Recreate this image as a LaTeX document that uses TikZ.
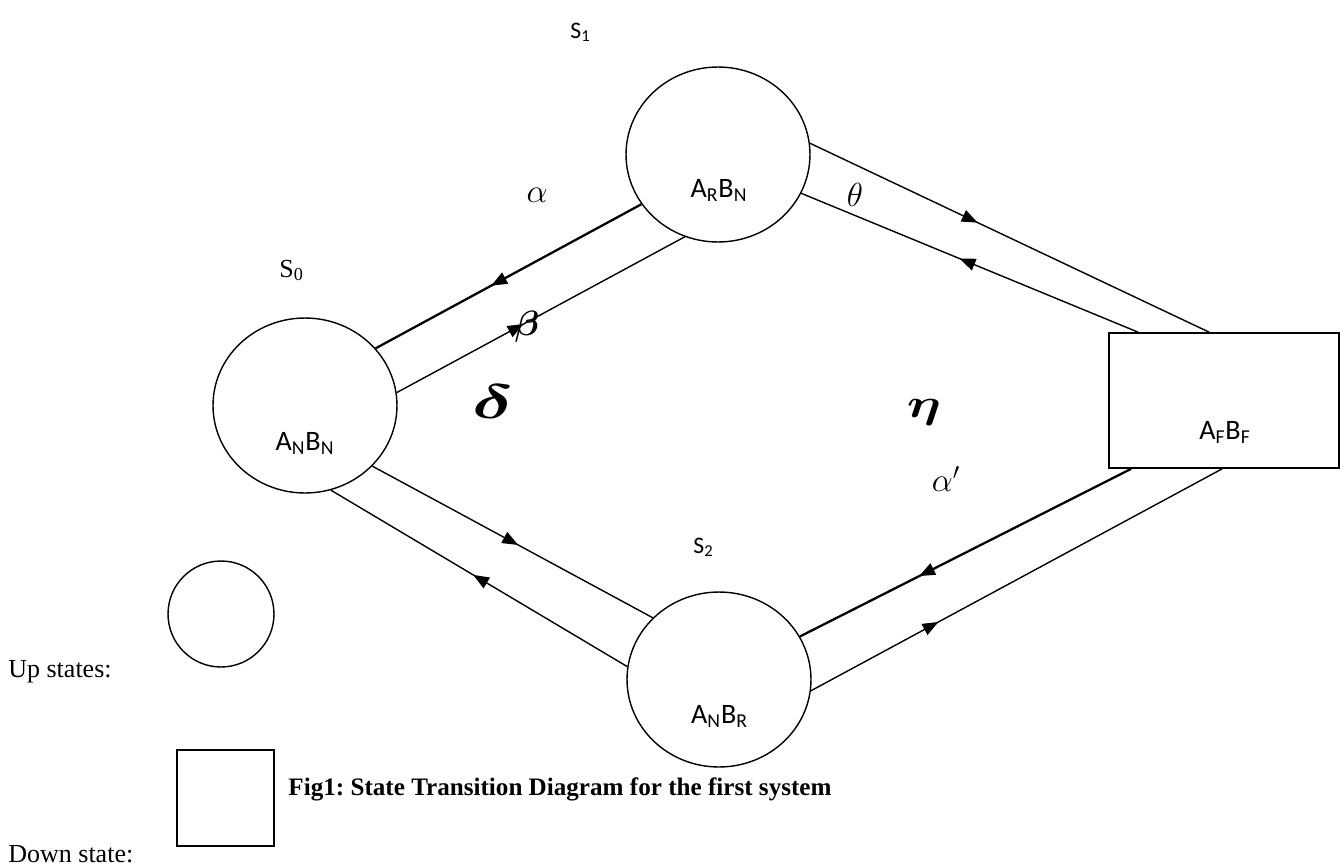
\RequirePackage{fix-cm}
\documentclass[tikz,border=0pt]{standalone}
\usepackage{amsmath}
\usepackage{fontspec}
\setmainfont{Liberation Serif}
\newfontfamily\calfont{Carlito}
\frenchspacing
\usetikzlibrary{arrows.meta,decorations.markings,calc,shapes.geometric}
\tikzset{
  state/.style={ellipse,draw,line width=0.8pt,minimum width=3.68cm,minimum height=3.5cm,inner sep=0pt},
  downbox/.style={rectangle,draw,line width=0.9pt,inner sep=0pt},
  conn/.style={line width=0.8pt},
  thickconn/.style={line width=1.3pt},
  midarr/.style={postaction={decorate},decoration={markings,mark=at position #1 with {\arrow{Triangle[length=9pt,width=7pt]}}}},
  sanslab/.style={inner sep=0pt,font=\calfont\fontsize{13.5}{15}\selectfont},
  statetext/.style={inner sep=0pt,font=\calfont\fontsize{16}{18}\selectfont},
  seriflab/.style={inner sep=0pt,font=\fontsize{14.8}{17}\selectfont},
  greek/.style={inner sep=0pt,font=\fontsize{19}{21}\selectfont},
}
\begin{document}
\begin{tikzpicture}[x=0.02cm,y=-0.02cm]
\useasboundingbox (0,0) rectangle (1340,866);
% states
\node[state] (s1) at (718,154.5) {};
\node[state] (s0) at (305,405.5) {};
\node[state] (s2) at (719,679.5) {};
\node[downbox,minimum width=4.6cm,minimum height=2.7cm] (af) at (1224,400.5) {};
% state texts
\node[statetext,anchor=base] (t1) at (719,197) {A\textsubscript{R}B\textsubscript{N}};
\node[statetext,anchor=base] (t0) at (305,450) {A\textsubscript{N}B\textsubscript{N}};
\node[statetext,anchor=base] (t2) at (719.5,723) {A\textsubscript{N}B\textsubscript{R}};
\node[statetext,anchor=base] (tf) at (1225,439) {A\textsubscript{F}B\textsubscript{F}};
% state labels
\node[sanslab,anchor=base west] (l1) at (570,38) {S\textsubscript{1}};
\node[seriflab,anchor=base west] (l0) at (279,277) {S\textsubscript{0}};
\node[sanslab,anchor=base west] (l2) at (693,553) {S\textsubscript{2}};
% attachment points on the down state
\coordinate (afT1) at ($(af.north west)+(30,0)$);
\coordinate (afT2) at ($(af.north west)+(101,0)$);
\coordinate (afB1) at ($(af.south west)+(23,0)$);
\coordinate (afB2) at ($(af.south west)+(114,0)$);
% connectors
\draw[thickconn,midarr=0.565] (s1.213) -- (s0.39.5);
\draw[conn,midarr=0.44] (s0.8.3) -- (s1.248);
\draw[conn,midarr=0.42] (s1.7) -- (afT2);
\draw[conn,midarr=0.53] (afT1) -- (s1.-25.7);
\draw[conn,midarr=0.52] (s0.-42.1) -- (s2.137.4);
\draw[conn,midarr=0.52] (s2.172.2) -- (s0.-73.9);
\draw[thickconn,midarr=0.64] (afB1) -- (s2.28.8);
\draw[conn,midarr=0.31] (s2.-7.7) -- (afB2);
% rate labels
\node[greek] (ga) at (537,195) {$\alpha$};
\node[greek] (gt) at (855,195) {$\theta$};
\node[greek,font=\fontsize{20}{22}\selectfont] (gb) at (527,327) {$\boldsymbol{\beta}$};
\node[greek,font=\fontsize{22}{24}\selectfont] (gd) at (493,402) {\scalebox{1.9}[1.25]{$\boldsymbol{\delta}$}};
\node[greek,font=\fontsize{21}{23}\selectfont] (ge) at (924,412) {\scalebox{1.45}[1.1]{$\boldsymbol{\eta}$}};
\node[greek] (gap) at (946,479) {$\alpha'$};
% legend
\node[circle,draw,line width=0.8pt,minimum size=2.12cm,inner sep=0pt] (legc) at (221,614) {};
\node[downbox,minimum width=1.94cm,minimum height=1.92cm] (legs) at (225.5,798) {};
\node[seriflab,anchor=base west] (up) at (8,677) {Up states:};
\node[seriflab,anchor=base west] (down) at (8,862) {Down state:};
% caption
\node[seriflab,anchor=base,font=\bfseries\fontsize{14.3}{17}\selectfont] (cap) at (560,795) {Fig1: State Transition Diagram for the first system};
\end{tikzpicture}
\end{document}
